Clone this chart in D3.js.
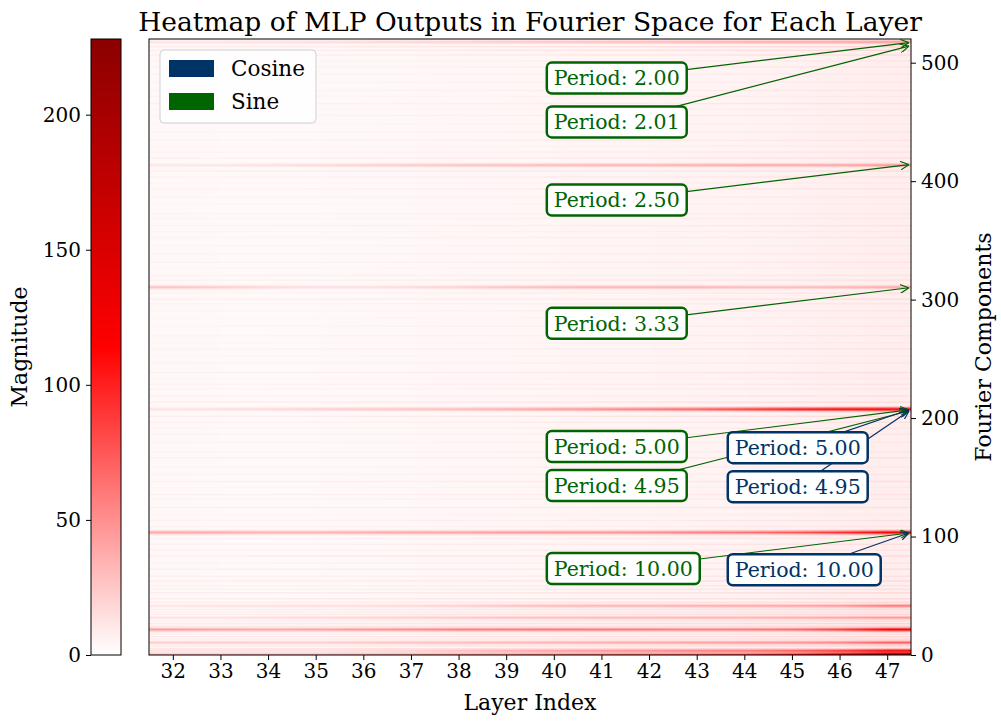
<!DOCTYPE html>
<html>
<head>
<meta charset="utf-8">
<script src="https://cdn.jsdelivr.net/npm/d3@7"></script>
<style>
  body { margin: 0; background: #fff; }
  text { font-family: "DejaVu Serif", serif; }
</style>
</head>
<body>
<svg id="chart" width="1001" height="724"></svg>
<script>
// layers shown on the x axis
var layers = [32, 33, 34, 35, 36, 37, 38, 39, 40, 41, 42, 43, 44, 45, 46, 47];
var nComponents = 520;

// background magnitude per layer
var bgLevel = [3, 2.5, 2.5, 2.5, 3, 3, 3.5, 3.5, 4, 4.5, 4.5, 5, 5.5, 6, 6.5, 7.5];

// strong bands: fourier component row and magnitude per layer
var bandRows = [517, 413, 310, 207, 103, 41, 31, 21, 10, 3, 0];
var bandValues = [
    [14, 14, 15, 16, 18, 20, 22, 25, 28, 30, 32, 35, 38, 40, 42, 48],
    [12, 12, 15, 18, 22, 25, 28, 30, 32, 35, 35, 38, 40, 40, 42, 48],
    [28, 24, 18, 15, 15, 18, 22, 28, 32, 35, 35, 35, 32, 32, 35, 40],
    [14, 16, 18, 22, 25, 28, 32, 38, 45, 52, 62, 72, 88, 105, 118, 128],
    [40, 38, 35, 35, 38, 40, 42, 45, 48, 48, 52, 58, 64, 75, 95, 125],
    [12, 14, 14, 16, 16, 18, 22, 28, 32, 35, 35, 38, 40, 42, 48, 62],
    [14, 14, 16, 18, 20, 22, 25, 28, 30, 32, 32, 35, 35, 38, 42, 48],
    [45, 42, 40, 42, 48, 52, 58, 60, 62, 62, 60, 58, 60, 66, 88, 125],
    [22, 22, 22, 22, 25, 28, 30, 32, 35, 38, 40, 42, 45, 48, 55, 72],
    [15, 15, 15, 15, 18, 22, 30, 38, 45, 50, 55, 60, 65, 75, 95, 130],
    [30, 30, 30, 30, 35, 40, 45, 50, 55, 60, 65, 70, 80, 100, 150, 228]
];

// faint streaks: row and extra magnitude
var faintRows = [5, 7, 13, 15, 17, 24, 26, 28, 34, 36, 38, 44, 47, 52, 55, 58, 62, 66, 72, 77, 83, 88, 93, 98,
                 108, 113, 118, 124, 131, 135, 141, 146, 152, 158, 166, 171, 179, 186, 191, 196, 201,
                 213, 218, 224, 228, 233, 238, 246, 252, 258, 263, 269, 277, 284, 290, 296, 300, 305,
                 316, 320, 326, 331, 338, 345, 352, 357, 362, 368, 372, 380, 386, 393, 398, 403, 408,
                 419, 424, 429, 434, 441, 448, 455, 460, 465, 471, 476, 483, 490, 496, 501, 506, 510, 513];
var faintValues = [12, 9, 8, 10, 7, 9, 11, 8, 10, 7, 9, 8, 10, 10, 7, 6, 9, 6, 8, 5, 9, 5, 7, 5,
                   4, 5, 3, 6, 4, 5, 3, 6, 4, 3, 6, 4, 3, 5, 4, 6, 8,
                   8, 6, 4, 5, 3, 6, 4, 3, 5, 3, 5, 4, 3, 4, 5, 7, 5,
                   6, 5, 3, 5, 4, 3, 4, 3, 5, 3, 4, 3, 4, 5, 3, 6, 8,
                   7, 5, 3, 5, 4, 3, 4, 3, 5, 3, 4, 3, 4, 5, 4, 7, 9, 10];

// annotations
var annLabels  = ["Period: 2.00", "Period: 2.01", "Period: 2.50", "Period: 3.33", "Period: 5.00", "Period: 4.95", "Period: 10.00",
                  "Period: 5.00", "Period: 4.95", "Period: 10.00"];
var annKinds   = ["sine", "sine", "sine", "sine", "sine", "sine", "sine", "cosine", "cosine", "cosine"];
var annTargets = [517, 514, 414, 310, 207, 206, 103, 207, 206, 103];
var annTextX   = [40, 40, 40, 40, 40, 40, 40, 43.8, 43.8, 43.8];
var annTextY   = [487, 450, 384, 280, 176, 143, 73, 175, 142, 72];

var colors = { cosine: "#003366", sine: "#006400" };

var vmax = 228;
var color = d3.scaleLinear()
    .domain([0, vmax / 2, vmax])
    .range(["#ffffff", "#ff0000", "#8b0000"])
    .clamp(true);

var svg = d3.select("#chart");
var mLeft = 149, mRight = 911, mTop = 39, mBottom = 655;

var x = d3.scaleLinear().domain([31.5, 47.5]).range([mLeft, mRight]);
var y = d3.scaleLinear().domain([0, nComponents]).range([mBottom, mTop]);

// build the grid
var grid = [];
for (var r = 0; r < nComponents; r++) {
    grid.push(bgLevel.slice());
}
faintRows.forEach(function(row, k) {
    for (var j = 0; j < layers.length; j++) grid[row][j] += faintValues[k] * (0.7 + j * 0.04);
});
var halo = [[-2, 0.22], [-1, 0.6], [1, 0.6], [2, 0.22]];
bandRows.forEach(function(row, k) {
    for (var j = 0; j < layers.length; j++) {
        var v = bandValues[k][j];
        grid[row][j] = Math.max(grid[row][j], v);
        halo.forEach(function(h) {
            var rr = row + h[0];
            if (rr >= 0 && rr < nComponents) grid[rr][j] = Math.max(grid[rr][j], v * h[1]);
        });
    }
});

// paint heatmap on a small canvas, then stretch it as an image
var canvas = document.createElement("canvas");
canvas.width = layers.length;
canvas.height = nComponents;
var ctx = canvas.getContext("2d");
var image = ctx.createImageData(layers.length, nComponents);
var i = -1;
for (var py = 0; py < nComponents; py++) {
    var row = nComponents - 1 - py;
    for (var px = 0; px < layers.length; px++) {
        var c = d3.rgb(color(grid[row][px]));
        image.data[++i] = c.r;
        image.data[++i] = c.g;
        image.data[++i] = c.b;
        image.data[++i] = 255;
    }
}
ctx.putImageData(image, 0, 0);

svg.append("image")
    .attr("href", canvas.toDataURL())
    .attr("x", mLeft).attr("y", mTop)
    .attr("width", mRight - mLeft).attr("height", mBottom - mTop)
    .attr("preserveAspectRatio", "none");

// frame
svg.append("rect")
    .attr("x", mLeft).attr("y", mTop)
    .attr("width", mRight - mLeft).attr("height", mBottom - mTop)
    .attr("fill", "none").attr("stroke", "#000").attr("stroke-width", 1);

// x axis
var xAxis = svg.append("g")
    .attr("transform", "translate(0," + mBottom + ")")
    .call(d3.axisBottom(x).tickValues(layers).tickFormat(d3.format("d")).tickSize(5).tickPadding(4));
xAxis.select(".domain").remove();
xAxis.selectAll("text").attr("font-size", 20).attr("fill", "#000").attr("font-family", "DejaVu Serif");

// right y axis
var yAxis = svg.append("g")
    .attr("transform", "translate(" + mRight + ",0)")
    .call(d3.axisRight(y).tickValues([0, 100, 200, 300, 400, 500]).tickSize(5).tickPadding(5));
yAxis.select(".domain").remove();
yAxis.selectAll("text").attr("font-size", 20).attr("fill", "#000").attr("font-family", "DejaVu Serif");

// titles
svg.append("text")
    .attr("x", (mLeft + mRight) / 2).attr("y", 31)
    .attr("text-anchor", "middle").attr("font-size", 26.5)
    .text("Heatmap of MLP Outputs in Fourier Space for Each Layer");
svg.append("text")
    .attr("x", (mLeft + mRight) / 2).attr("y", 710)
    .attr("text-anchor", "middle").attr("font-size", 22)
    .text("Layer Index");
svg.append("text")
    .attr("transform", "translate(991," + (mTop + mBottom) / 2 + ") rotate(-90)")
    .attr("text-anchor", "middle").attr("font-size", 22)
    .text("Fourier Components");

// annotations: arrows below boxes
var defs = svg.append("defs");
["sine", "cosine"].forEach(function(k) {
    defs.append("marker")
        .attr("id", "head-" + k)
        .attr("viewBox", "0 0 10 10")
        .attr("refX", 10).attr("refY", 5)
        .attr("markerWidth", 9).attr("markerHeight", 9)
        .attr("markerUnits", "userSpaceOnUse")
        .attr("orient", "auto")
        .append("path")
        .attr("d", "M0,0 L10,5 L0,10")
        .attr("fill", "none")
        .attr("stroke", colors[k])
        .attr("stroke-width", 1.3);
});

var ann = annLabels.map(function(label, k) {
    return { label: label, kind: annKinds[k], target: annTargets[k], tx: annTextX[k], ty: annTextY[k] };
});

// measure text first
var annFont = 20.5;
var measure = svg.append("text").attr("font-size", annFont);
ann.forEach(function(a) {
    measure.text(a.label);
    a.w = measure.node().getComputedTextLength();
});
measure.remove();

var pad = 7, boxH = 31;
ann.forEach(function(a) {
    a.cx = x(a.tx) + a.w / 2;
    a.cy = y(a.ty);
    var tx = x(47.5) - 2, tyy = y(a.target);
    svg.append("line")
        .attr("x1", a.cx).attr("y1", a.cy)
        .attr("x2", tx).attr("y2", tyy)
        .attr("stroke", colors[a.kind]).attr("stroke-width", 1.2)
        .attr("marker-end", "url(#head-" + a.kind + ")");
});

ann.forEach(function(a) {
    var g = svg.append("g");
    g.append("rect")
        .attr("x", x(a.tx) - pad).attr("y", a.cy - boxH / 2)
        .attr("width", a.w + 2 * pad).attr("height", boxH)
        .attr("rx", 5).attr("ry", 5)
        .attr("fill", "#fff")
        .attr("stroke", colors[a.kind]).attr("stroke-width", 2.5);
    g.append("text")
        .attr("x", x(a.tx)).attr("y", a.cy)
        .attr("dy", "0.36em")
        .attr("font-size", annFont)
        .attr("fill", colors[a.kind])
        .text(a.label);
});

// legend
var legend = svg.append("g");
legend.append("rect")
    .attr("x", 160).attr("y", 50).attr("width", 156).attr("height", 73)
    .attr("rx", 4).attr("fill", "#fff").attr("fill-opacity", 0.8)
    .attr("stroke", "#d0d0d0").attr("stroke-width", 1);
[["Cosine", colors.cosine], ["Sine", colors.sine]].forEach(function(d, k) {
    legend.append("rect")
        .attr("x", 169).attr("y", 60 + k * 33).attr("width", 45).attr("height", 17)
        .attr("fill", d[1]);
    legend.append("text")
        .attr("x", 231).attr("y", 68.5 + k * 33).attr("dy", "0.36em")
        .attr("font-size", 21.5)
        .text(d[0]);
});

// colorbar
var cbX = 91, cbW = 30;
var cbScale = d3.scaleLinear().domain([0, vmax]).range([mBottom, mTop]);
var grad = defs.append("linearGradient")
    .attr("id", "cbgrad").attr("x1", 0).attr("y1", 1).attr("x2", 0).attr("y2", 0);
d3.range(0, 1.0001, 0.05).forEach(function(t) {
    grad.append("stop").attr("offset", t).attr("stop-color", color(t * vmax));
});
svg.append("rect")
    .attr("x", cbX).attr("y", mTop).attr("width", cbW).attr("height", mBottom - mTop)
    .attr("fill", "url(#cbgrad)").attr("stroke", "#000").attr("stroke-width", 1);
var cbAxis = svg.append("g")
    .attr("transform", "translate(" + cbX + ",0)")
    .call(d3.axisLeft(cbScale).tickValues([0, 50, 100, 150, 200]).tickSize(5).tickPadding(5));
cbAxis.select(".domain").remove();
cbAxis.selectAll("text").attr("font-size", 20).attr("fill", "#000").attr("font-family", "DejaVu Serif");
svg.append("text")
    .attr("transform", "translate(27," + (mTop + mBottom) / 2 + ") rotate(-90)")
    .attr("text-anchor", "middle").attr("font-size", 22)
    .text("Magnitude");
</script>
</body>
</html>
